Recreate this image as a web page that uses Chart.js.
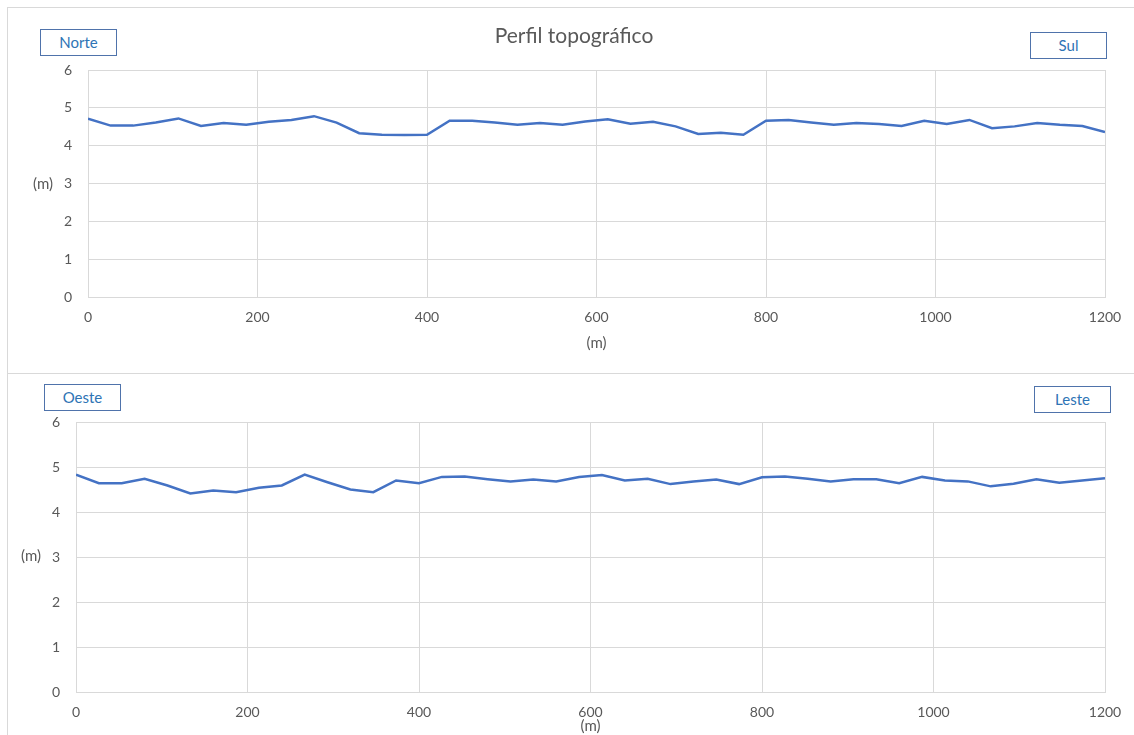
<!DOCTYPE html>
<html>
<head>
<meta charset="utf-8">
<script src="https://cdn.jsdelivr.net/npm/chart.js@4.4.1/dist/chart.umd.min.js"></script>
<style>
  body { margin: 0; background: #fff; width: 1134px; height: 735px; overflow: hidden; position: relative; font-family: Lato, "Open Sans", sans-serif; }
  .panel { position: absolute; border: 1px solid #d9d9d9; background: #fff; }
  canvas { position: absolute; left: 0; }
  .tag { position: absolute; width: 75px; height: 25px; line-height: 25px; text-align: center; border: 1px solid #4f73ab; color: #2e74b5; font-size: 15px; background: #fff; }
  .title { position: absolute; left: 0; width: 1148px; top: 22px; text-align: center; font-size: 21px; color: #595959; }
  .ylab { position: absolute; font-size: 15px; color: #595959; }
</style>
</head>
<body>
<div class="panel" style="left:7px; top:7px; width:1150px; height:365px;"></div>
<div class="panel" style="left:7px; top:373px; width:1150px; height:380px;"></div>
<canvas id="chartNS" width="1134" height="372" style="top:0;"></canvas>
<canvas id="chartWE" width="1134" height="362" style="top:373px;"></canvas>
<div class="title">Perfil topográfico</div>
<div class="tag" style="left:40px; top:29px;">Norte</div>
<div class="tag" style="left:1030px; top:32px;">Sul</div>
<div class="tag" style="left:44px; top:384px;">Oeste</div>
<div class="tag" style="left:1034px; top:386px;">Leste</div>
<div class="ylab" style="left:33px; top:174px;">(m)</div>
<div class="ylab" style="left:21px; top:546px;">(m)</div>
<script>
// distancia ao longo do perfil (m)
const distances = [0, 26.7, 53.3, 80, 106.7, 133.3, 160, 186.7, 213.3, 240, 266.7, 293.3, 320, 346.7, 373.3, 400,
  426.7, 453.3, 480, 506.7, 533.3, 560, 586.7, 613.3, 640, 666.7, 693.3, 720, 746.7, 773.3, 800,
  826.7, 853.3, 880, 906.7, 933.3, 960, 986.7, 1013.3, 1040, 1066.7, 1093.3, 1120, 1146.7, 1173.3, 1200];

// cotas (m)
const norteSul = [4.71, 4.53, 4.53, 4.61, 4.72, 4.52, 4.60, 4.55, 4.63, 4.68, 4.78, 4.61, 4.33, 4.29, 4.28, 4.29,
  4.66, 4.66, 4.61, 4.55, 4.60, 4.55, 4.64, 4.70, 4.58, 4.63, 4.51, 4.31, 4.34, 4.29, 4.66,
  4.68, 4.61, 4.55, 4.60, 4.57, 4.52, 4.66, 4.57, 4.68, 4.46, 4.51, 4.60, 4.55, 4.52, 4.36];
const oesteLeste = [4.83, 4.64, 4.64, 4.74, 4.59, 4.41, 4.48, 4.44, 4.54, 4.59, 4.83, 4.66, 4.50, 4.44, 4.70, 4.64,
  4.78, 4.79, 4.73, 4.68, 4.72, 4.68, 4.78, 4.82, 4.70, 4.74, 4.62, 4.68, 4.72, 4.62, 4.77,
  4.79, 4.74, 4.68, 4.73, 4.73, 4.64, 4.78, 4.70, 4.68, 4.57, 4.63, 4.73, 4.65, 4.70, 4.75];

const xTicks = [0, 200, 400, 600, 800, 1000, 1200];
const yTicks = [0, 1, 2, 3, 4, 5, 6];

const gray = '#595959';
const gridColor = '#d9d9d9';
const tickFont = { family: 'Lato', size: 14 };

function makeProfile(canvasId, values, box) {
  const pts = distances.map((d, i) => ({ x: d, y: values[i] }));
  return new Chart(document.getElementById(canvasId), {
    type: 'line',
    data: {
      datasets: [{
        data: pts,
        borderColor: '#4472c4',
        borderWidth: 2.5,
        pointRadius: 0,
        tension: 0
      }]
    },
    options: {
      responsive: false,
      animation: false,
      layout: { padding: { left: 0, right: box.right, top: box.top, bottom: 0 } },
      plugins: { legend: { display: false }, tooltip: { enabled: false } },
      scales: {
        x: {
          type: 'linear', min: 0, max: 1200,
          afterBuildTicks: s => { s.ticks = xTicks.map(v => ({ value: v })); },
          afterFit: s => { s.height = box.xHeight; },
          grid: { color: gridColor, drawTicks: false },
          border: { color: gridColor },
          ticks: { color: gray, font: tickFont, padding: 12, maxRotation: 0, callback: v => String(v) },
          title: { display: true, text: '(m)', color: gray, font: { family: 'Lato', size: 15 }, padding: { top: 0, bottom: box.titlePad } }
        },
        y: {
          min: 0, max: 6,
          afterBuildTicks: s => { s.ticks = yTicks.map(v => ({ value: v })); },
          afterFit: s => { s.width = box.left; },
          grid: { color: gridColor, drawTicks: false },
          border: { color: gridColor },
          ticks: { color: gray, font: tickFont, padding: 16, callback: v => String(v) }
        }
      }
    }
  });
}

makeProfile('chartNS', norteSul, { left: 88, right: 29, top: 70, xHeight: 75, titlePad: 20 });
makeProfile('chartWE', oesteLeste, { left: 76, right: 29, top: 49, xHeight: 43, titlePad: 0 });
</script>
</body>
</html>
